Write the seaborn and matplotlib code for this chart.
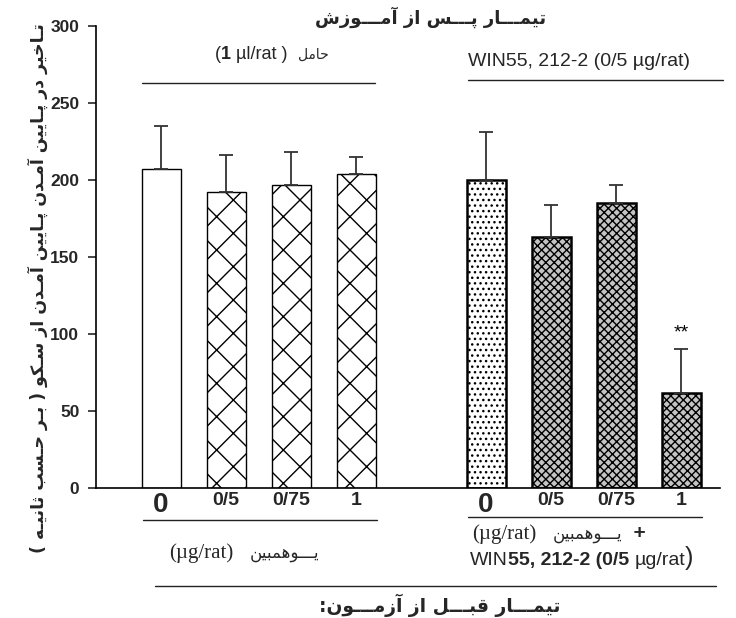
import pandas as pd
import seaborn as sns
import matplotlib.pyplot as plt
from matplotlib.lines import Line2D
from matplotlib import font_manager, ft2font

# داده‌ها (ثانیه)
groups = ["vehicle", "vehicle", "vehicle", "vehicle", "win", "win", "win", "win"]
dose_labels = ["0", "0/5", "0/75", "1", "0", "0/5", "0/75", "1"]
positions = [0, 1, 2, 3, 5, 6, 7, 8]
latency = [207, 192, 197, 204, 200, 163, 185, 62]
sem = [28, 24, 21, 11, 31, 21, 12, 28]

# متن‌های فارسی (ترتیب منطقی)
title_top = "تیمـــار پـــس از آمـــوزش"
title_bottom = "تیمـــار قبـــل از آزمـــون:"
ylabel_fa = "تـاخیر در پـایین آمـدن پـایین آمـدن از سـکو ( بـر حـسب ثانیـه )"
vehicle_fa = "حامل"
yohimbine_fa = "یـــوهمبین"

# شکل‌دهی ساده حروف فارسی (matplotlib خودش اتصال و راست‌به‌چپ ندارد)
FORMS = {
    "ا": ("\uFE8D", "\uFE8E", None, None),
    "آ": ("\uFE81", "\uFE82", None, None),
    "ب": ("\uFE8F", "\uFE90", "\uFE91", "\uFE92"),
    "پ": ("\uFB56", "\uFB57", "\uFB58", "\uFB59"),
    "ت": ("\uFE95", "\uFE96", "\uFE97", "\uFE98"),
    "ث": ("\uFE99", "\uFE9A", "\uFE9B", "\uFE9C"),
    "ح": ("\uFEA1", "\uFEA2", "\uFEA3", "\uFEA4"),
    "خ": ("\uFEA5", "\uFEA6", "\uFEA7", "\uFEA8"),
    "د": ("\uFEA9", "\uFEAA", None, None),
    "ر": ("\uFEAD", "\uFEAE", None, None),
    "ز": ("\uFEAF", "\uFEB0", None, None),
    "س": ("\uFEB1", "\uFEB2", "\uFEB3", "\uFEB4"),
    "ش": ("\uFEB5", "\uFEB6", "\uFEB7", "\uFEB8"),
    "ق": ("\uFED5", "\uFED6", "\uFED7", "\uFED8"),
    "ک": ("\uFB8E", "\uFB8F", "\uFB90", "\uFB91"),
    "ل": ("\uFEDD", "\uFEDE", "\uFEDF", "\uFEE0"),
    "م": ("\uFEE1", "\uFEE2", "\uFEE3", "\uFEE4"),
    "ن": ("\uFEE5", "\uFEE6", "\uFEE7", "\uFEE8"),
    "ه": ("\uFEE9", "\uFEEA", "\uFEEB", "\uFEEC"),
    "و": ("\uFEED", "\uFEEE", None, None),
    "ی": ("\uFBFC", "\uFBFD", "\uFBFE", "\uFBFF"),
}
TATWEEL = "ـ"

_cmap = ft2font.FT2Font(font_manager.findfont("DejaVu Sans")).get_charmap()


def fa(s):
    out = []
    for i, c in enumerate(s):
        if c not in FORMS:
            out.append(c)
            continue
        prev = s[i - 1] if i > 0 else ""
        nxt = s[i + 1] if i < len(s) - 1 else ""
        jp = prev == TATWEEL or (prev in FORMS and FORMS[prev][2] is not None)
        jn = (nxt == TATWEEL or nxt in FORMS) and FORMS[c][2] is not None
        iso, fin, ini, med = FORMS[c]
        g = med if (jp and jn) else fin if jp else ini if jn else iso
        out.append(g if ord(g) in _cmap else c)
    vis = "".join(out)[::-1]
    return vis.translate(str.maketrans("()", ")("))


sns.set_style("ticks")
plt.rcParams["font.family"] = ["Liberation Sans", "DejaVu Sans"]
plt.rcParams["hatch.linewidth"] = 1.0

W, H = 736, 618
fig = plt.figure(figsize=(W / 100, H / 100), dpi=100)
ax = fig.add_axes([96 / W, 130 / H, 624 / W, 462 / H])

df = pd.DataFrame({"pos": positions, "latency": latency, "group": groups})
sns.barplot(data=df, x="pos", y="latency", native_scale=True, width=0.6,
            color="white", edgecolor="black", linewidth=1.0, errorbar=None,
            saturation=1, ax=ax)

# الگوی میله‌ها
styles = [("white", "", 1.0), ("white", "x", 1.0), ("white", "x", 1.0), ("white", "x", 1.0),
          ("white", "...", 1.8), ("#c4c4c4", "xxxx", 1.8), ("#c4c4c4", "xxxx", 1.8), ("#c4c4c4", "xxxx", 1.8)]
for patch, (fc, hatch, lw) in zip(ax.patches, styles):
    patch.set_facecolor(fc)
    patch.set_hatch(hatch)
    patch.set_linewidth(lw)
    patch.set_edgecolor("black")

ax.errorbar(positions, latency, yerr=[[0] * len(sem), sem], fmt="none",
            ecolor="#333333", elinewidth=1.3, capsize=5, capthick=1.3, zorder=1)
ax.text(positions[7], latency[7] + sem[7] + 5, "**", ha="center", va="bottom",
        fontsize=14, color="black")

ax.set_xlim(-1, 8.6)
ax.set_ylim(0, 300)
ax.set_yticks(range(0, 301, 50))
ax.set_xticks(positions, dose_labels)
ax.set_xlabel("")
ax.set_ylabel("")
sns.despine(ax=ax)
for sp in ["left", "bottom"]:
    ax.spines[sp].set_linewidth(1.2)
    ax.spines[sp].set_color("black")
ax.tick_params(axis="y", length=6, width=1.2, labelsize=12.5, pad=6)
ax.tick_params(axis="x", length=0, pad=3)
for lab in ax.get_yticklabels():
    lab.set_fontweight("bold")
for lab in ax.get_xticklabels():
    lab.set_fontweight("bold")
    lab.set_fontsize(20 if lab.get_text() == "0" else 14)


def fx(x):
    return x / W


def fy(y):
    return 1 - y / H


def hline(x0, x1, y, lw=1.0):
    fig.add_artist(Line2D([fx(x0), fx(x1)], [fy(y), fy(y)], color="#222222", lw=lw))


renderer = fig.canvas.get_renderer()


def run_text(x, y, parts):
    cur = x
    for s, kw in parts:
        t = fig.text(fx(cur), fy(y), s, ha="left", va="baseline", **kw)
        cur += t.get_window_extent(renderer).width


fa_font = ["DejaVu Sans"]
serif = ["Liberation Serif", "DejaVu Serif"]

# بالا
fig.text(fx(431), fy(17), fa(title_top), ha="center", va="center",
         family=fa_font, fontweight="bold", fontsize=13)
run_text(215, 59, [("(", dict(fontsize=13)), ("1", dict(fontsize=13, fontweight="bold")),
                   (" µl/rat )  ", dict(fontsize=13)), (fa(vehicle_fa), dict(family=fa_font, fontsize=10))])
hline(142, 375, 83)
run_text(468, 66, [("WIN55, 212-2 (0/5 µg/rat)", dict(fontsize=14))])
hline(468, 723, 80)

# پایین
hline(143, 377, 520)
run_text(169, 558, [("(µg/rat)", dict(family=serif, fontsize=15)), ("   ", dict(fontsize=14)),
                    (fa(yohimbine_fa), dict(family=fa_font, fontsize=12))])
hline(468, 702, 517)
run_text(472, 539, [("(µg/rat)", dict(family=serif, fontsize=15)), ("   ", dict(fontsize=14)),
                    (fa(yohimbine_fa), dict(family=fa_font, fontsize=12)),
                    ("  +", dict(fontsize=15, fontweight="bold"))])
run_text(470, 565, [("WIN", dict(fontsize=14)), ("55, 212-2 (0/5 ", dict(fontsize=14, fontweight="bold")),
                    ("µg/rat", dict(fontsize=14)), (")", dict(fontsize=18))])
hline(155, 716, 586)
fig.text(fx(440), fy(605), fa(title_bottom), ha="center", va="center",
         family=fa_font, fontweight="bold", fontsize=13.5)

# محور عمودی
fig.text(fx(38), fy(288), fa(ylabel_fa), rotation=90, ha="center", va="center",
         family=fa_font, fontweight="bold", fontsize=12.5)

fig.savefig("out.png", dpi=100)
